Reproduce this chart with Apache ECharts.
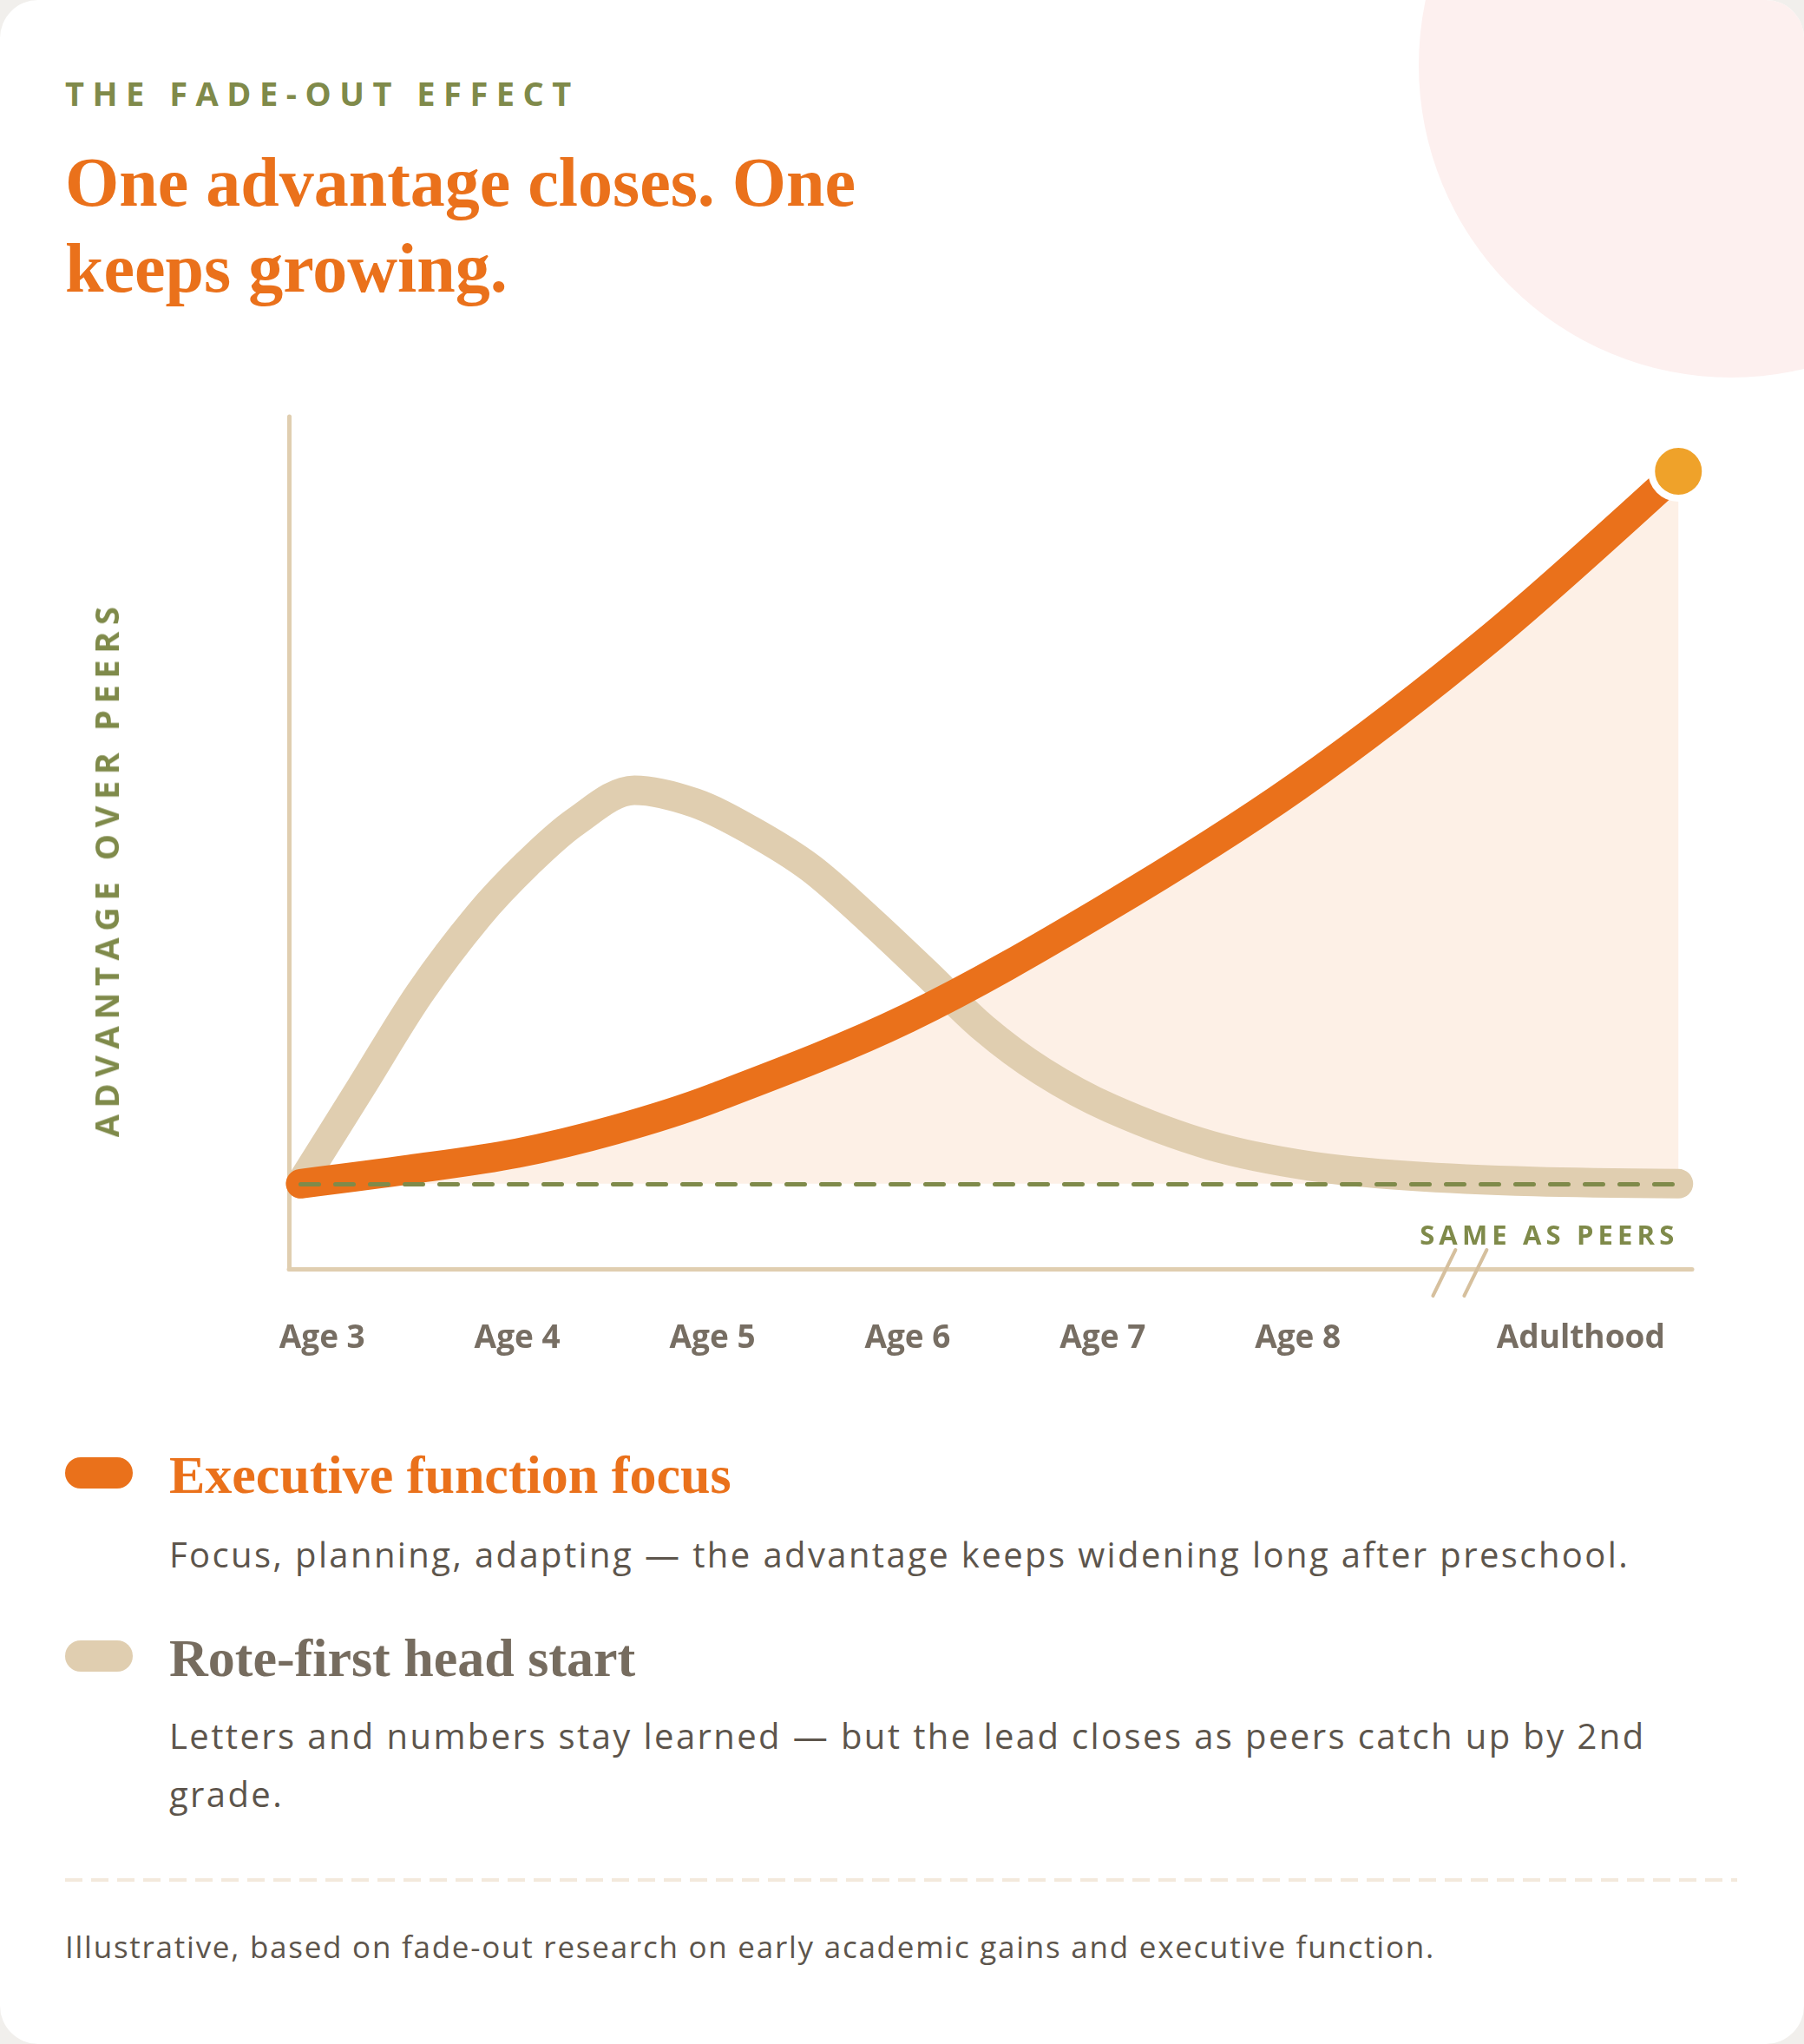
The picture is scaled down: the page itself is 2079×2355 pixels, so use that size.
<!DOCTYPE html>
<html>
<head>
<meta charset="utf-8">
<title>The fade-out effect</title>
<script src="https://cdn.jsdelivr.net/npm/echarts@6/dist/echarts.min.js"></script>
<style>
  html, body { margin: 0; padding: 0; background: #f1efec; }
  #card { position: relative; width: 2079px; height: 2355px; background: #fff; border-radius: 44px; overflow: hidden; }
  #blob { position: absolute; left: 1635px; top: -285px; width: 720px; height: 720px; border-radius: 50%; background: #fdf0ef; }
  .t { position: absolute; margin: 0; white-space: nowrap; }
  #eyebrow { left: 75px; top: 84px; font: 700 38px/46px "Open Sans", sans-serif; letter-spacing: 0.25em; color: #7f8a4a; }
  #headline { left: 75px; top: 161px; font: 700 80px/99px "Liberation Serif", serif; color: #ea711b; }
  #ytitle { left: 122px; top: 1001px; transform: translate(-50%, -50%) rotate(-90deg); font: 700 38px/46px "Open Sans", sans-serif; letter-spacing: 0.2em; color: #7f8a4a; }
  #chart { position: absolute; left: 0; top: 420px; width: 2079px; height: 1200px; }
  .swatch { position: absolute; left: 75px; width: 78px; height: 36px; border-radius: 18px; }
  .ltitle { left: 195px; font: 700 62px/68px "Liberation Serif", serif; }
  .ldesc { left: 195px; font: 400 40px/67px "Open Sans", sans-serif; letter-spacing: 0.06em; color: #5d554c; }
  #divider { position: absolute; left: 75px; top: 2164px; width: 1927px; height: 4px;
    background: repeating-linear-gradient(to right, #f3e9dc 0 20px, transparent 20px 30px); }
  #foot { left: 75px; top: 2222px; font: 400 35px/42px "Open Sans", sans-serif; letter-spacing: 0.05em; color: #5d554c; }
</style>
</head>
<body>
<div id="card">
  <div id="blob"></div>
  <div class="t" id="eyebrow">THE FADE-OUT EFFECT</div>
  <h1 class="t" id="headline">One advantage closes. One<br>keeps growing.</h1>
  <div id="chart"></div>
  <div class="t" id="ytitle">ADVANTAGE OVER PEERS</div>

  <div class="swatch" style="top:1679px;background:#ea711b"></div>
  <div class="t ltitle" style="top:1665px;color:#ea711b">Executive function focus</div>
  <div class="t ldesc" style="top:1757px">Focus, planning, adapting — the advantage keeps widening long after preschool.</div>

  <div class="swatch" style="top:1890px;background:#e0ceb0"></div>
  <div class="t ltitle" style="top:1876px;color:#766c5f">Rote-first head start</div>
  <div class="t ldesc" style="top:1966px">Letters and numbers stay learned — but the lead closes as peers catch up by 2nd<br>grade.</div>

  <div id="divider"></div>
  <div class="t" id="foot">Illustrative, based on fade-out research on early academic gains and executive function.</div>
</div>

<script>
// x axis: one unit per year, Adulthood placed after the axis break
const tickValues = [3, 4, 5, 6, 7, 8, 9.45];
const tickLabels = ["Age 3", "Age 4", "Age 5", "Age 6", "Age 7", "Age 8", "Adulthood"];

// Executive function focus (keeps growing)
const execX = [2.89, 3.45, 4, 4.5, 5, 6, 7, 8, 9, 9.95];
const execY = [0, 2.0, 4.3, 7.6, 12.0, 23.3, 38.5, 56.0, 77.1, 100.3];

// Rote-first head start (rises, then fades out)
const roteX = [2.89, 3.2, 3.5, 3.8, 4.05, 4.3, 4.6, 4.91, 5.2, 5.5, 5.8, 6.09, 6.39, 6.69, 7.04, 7.55, 8.06, 8.57, 9.21, 9.95];
const roteY = [0, 13.6, 26.8, 37.7, 45.0, 51.0, 55.4, 53.6, 49.7, 44.5, 37.3, 29.8, 21.9, 15.8, 10.6, 5.4, 2.5, 1.1, 0.3, 0];

// axis break marks, drawn across the x axis
const breakX = [8.75, 8.91];

const ORANGE = "#ea711b";
const TAN = "#e0ceb0";
const OLIVE = "#7f8a4a";
const SMOOTH = 0.33;

const pairs = (xs, ys) => xs.map((x, i) => [x, ys[i]]);

const chart = echarts.init(document.getElementById("chart"));

const option = {
  animation: false,
  grid: { left: 333, right: 129, top: 60, bottom: 158 },
  xAxis: {
    type: "value",
    min: 2.83,
    max: 10.02,
    axisLine: { onZero: false, lineStyle: { color: TAN, width: 5 } },
    axisTick: { show: false },
    splitLine: { show: false },
    axisLabel: {
      customValues: tickValues,
      formatter: (v) => tickLabels[tickValues.indexOf(v)] || "",
      margin: 62,
      color: "#776e63",
      fontFamily: "Open Sans",
      fontWeight: 700,
      fontSize: 37,
    },
  },
  yAxis: {
    type: "value",
    min: -12,
    max: 108,
    axisLine: { show: true, onZero: false, lineStyle: { color: TAN, width: 5 } },
    axisTick: { show: false },
    axisLabel: { show: false },
    splitLine: { show: false },
  },
  series: [
    {
      // fill under the executive function curve + "same as peers" baseline
      type: "line",
      z: 1,
      data: pairs(execX, execY),
      smooth: SMOOTH,
      symbol: "none",
      clip: false,
      lineStyle: { opacity: 0 },
      areaStyle: { color: "#fdf0e6", opacity: 1, origin: 0 },
      markLine: {
        silent: true,
        symbol: "none",
        lineStyle: { color: OLIVE, type: [21, 19], width: 5, cap: "round" },
        label: {
          show: true,
          position: "insideEndBottom",
          formatter: "S\u2009A\u2009M\u2009E\u2009 \u2009A\u2009S\u2009 \u2009P\u2009E\u2009E\u2009R\u2009S",
          color: OLIVE,
          fontFamily: "Open Sans",
          fontWeight: 700,
          fontSize: 31,
          distance: [5, 46],
        },
        data: [[{ coord: [execX[0], 0] }, { coord: [execX[execX.length - 1], 0] }]],
      },
    },
    {
      name: "Rote-first head start",
      type: "line",
      z: 3,
      data: pairs(roteX, roteY),
      smooth: SMOOTH,
      symbol: "none",
      clip: false,
      lineStyle: { color: TAN, width: 34, cap: "round", join: "round" },
    },
    {
      name: "Executive function focus",
      type: "line",
      z: 4,
      data: pairs(execX, execY),
      smooth: SMOOTH,
      symbol: "none",
      clip: false,
      lineStyle: { color: ORANGE, width: 34, cap: "round", join: "round" },
    },
    {
      type: "scatter",
      z: 5,
      data: [[execX[execX.length - 1], execY[execY.length - 1]]],
      symbolSize: 62,
      clip: false,
      itemStyle: { color: "#efa22a", opacity: 1, borderColor: "#ffffff", borderWidth: 8 },
    },
  ],
};

chart.setOption(option);

// break marks "//" on the x axis between Age 8 and Adulthood
const marks = breakX.map((x) => {
  const p = chart.convertToPixel({ gridIndex: 0 }, [x, -12]);
  return {
    type: "line",
    z: 10,
    shape: { x1: p[0] - 13, y1: p[1] + 31, x2: p[0] + 13, y2: p[1] - 22 },
    style: { stroke: "#d6c09e", lineWidth: 4, lineCap: "round" },
  };
});
chart.setOption({ graphic: marks });
</script>
</body>
</html>
